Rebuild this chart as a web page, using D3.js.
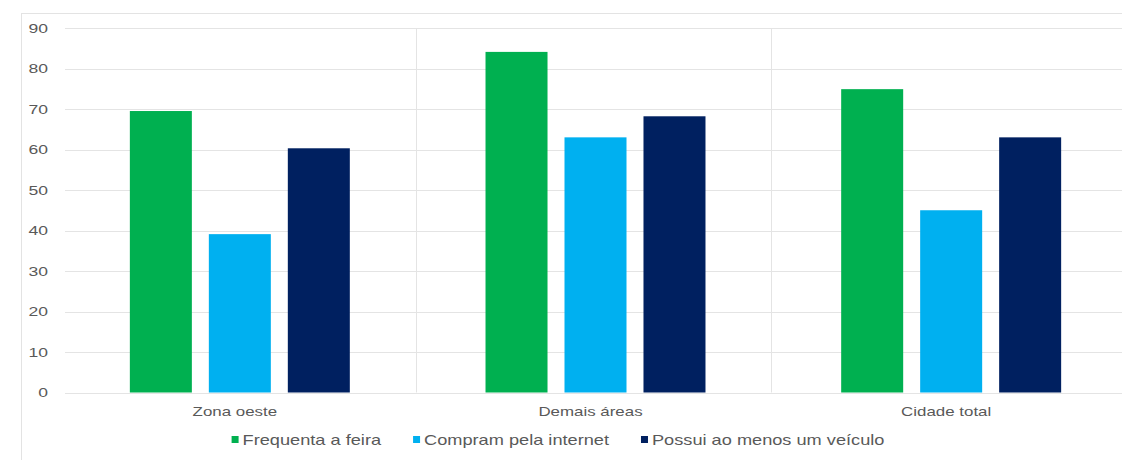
<!DOCTYPE html>
<html lang="pt">
<head>
  <meta charset="UTF-8" />
  <title>Zona oeste x demais áreas</title>
  <script src="https://d3js.org/d3.v7.min.js"></script>
  <style>
    body { margin: 0; background: #fff; font-family: "Liberation Sans", Arial, sans-serif; }
    svg { display: block; }
    .tick text, .cat, .leg { fill: #595959; }
  </style>
</head>
<body>
<svg id="chart" width="1122" height="460"></svg>
<script>
const categories = ["Zona oeste", "Demais áreas", "Cidade total"];
const series = ["Frequenta a feira", "Compram pela internet", "Possui ao menos um veículo"];
const frequentaFeira = [69.5, 84.1, 74.9];
const compramInternet = [39.1, 63.0, 45.0];
const possuiVeiculo = [60.3, 68.2, 63.0];
const yTicks = [0, 10, 20, 30, 40, 50, 60, 70, 80, 90];
const colors = ["#00b050", "#00b0f0", "#002060"];

const values = [frequentaFeira, compramInternet, possuiVeiculo];
const svg = d3.select("#chart");
const stretch = 1.3; // the source picture is stretched sideways

// outer frame
svg.append("rect")
  .attr("x", 21.5).attr("y", 13.5).attr("width", 1130).attr("height", 470)
  .attr("fill", "none").attr("stroke", "#e3e3e3");

const x = d3.scaleBand().domain(categories).range([62, 1129]);
const xInner = d3.scaleBand().domain(series).range([0, x.bandwidth()])
  .paddingInner(0.215).paddingOuter(0.859);
const y = d3.scaleLinear().domain([0, 90]).range([392.5, 28]);

// gridlines
svg.append("g")
  .selectAll("line")
  .data(yTicks)
  .join("line")
  .attr("x1", 65).attr("x2", 1122)
  .attr("y1", d => Math.round(y(d)) + 0.5).attr("y2", d => Math.round(y(d)) + 0.5)
  .attr("stroke", "#e4e4e4");

// category separators
svg.append("g")
  .selectAll("line")
  .data(categories.slice(1))
  .join("line")
  .attr("x1", d => Math.round(x(d)) - 1.5).attr("x2", d => Math.round(x(d)) - 1.5)
  .attr("y1", 28).attr("y2", 392.5)
  .attr("stroke", "#e4e4e4");

// y axis labels (drawn by the axis, then stretched sideways)
const yAxis = svg.append("g")
  .attr("transform", "translate(48,0)")
  .call(d3.axisLeft(y).tickValues(yTicks).tickSize(0).tickPadding(0));
yAxis.select(".domain").remove();
yAxis.selectAll(".tick text")
  .attr("x", 0)
  .style("font-size", "13.5px")
  .attr("transform", `scale(${stretch},1)`);

// bars
const groups = svg.append("g")
  .selectAll("g")
  .data(categories)
  .join("g")
  .attr("transform", d => `translate(${x(d)},0)`);

groups.selectAll("rect")
  .data((c, ci) => series.map((s, si) => ({ s, si, v: values[si][ci] })))
  .join("rect")
  .attr("x", d => xInner(d.s))
  .attr("width", xInner.bandwidth())
  .attr("y", d => y(d.v))
  .attr("height", d => y(0) - y(d.v))
  .attr("fill", d => colors[d.si]);

// category labels
svg.append("g")
  .selectAll("text")
  .data(categories)
  .join("text")
  .attr("class", "cat")
  .attr("transform", d => `translate(${x(d) + x.bandwidth() / 2 - 5},416) scale(${stretch},1)`)
  .attr("text-anchor", "middle")
  .style("font-size", "13px")
  .text(d => d);

// legend, laid out from the measured text widths
const leg = svg.append("g");
const items = leg.selectAll("g")
  .data(series)
  .join("g");
items.append("rect")
  .attr("x", 0).attr("y", -4).attr("width", 7).attr("height", 7)
  .attr("fill", (d, i) => colors[i]);
items.append("text")
  .attr("class", "leg")
  .attr("transform", `translate(11,5) scale(${stretch},1)`)
  .style("font-size", "14px")
  .text(d => d);

const widths = [];
items.each(function() {
  const w = 11 + d3.select(this).select("text").node().getComputedTextLength() * stretch;
  widths.push(w);
});
const gap = 32;
const total = d3.sum(widths) + gap * (widths.length - 1);
let start = 558 - total / 2;
items.attr("transform", (d, i) => {
  const t = `translate(${start},440)`;
  start += widths[i] + gap;
  return t;
});
</script>
</body>
</html>
